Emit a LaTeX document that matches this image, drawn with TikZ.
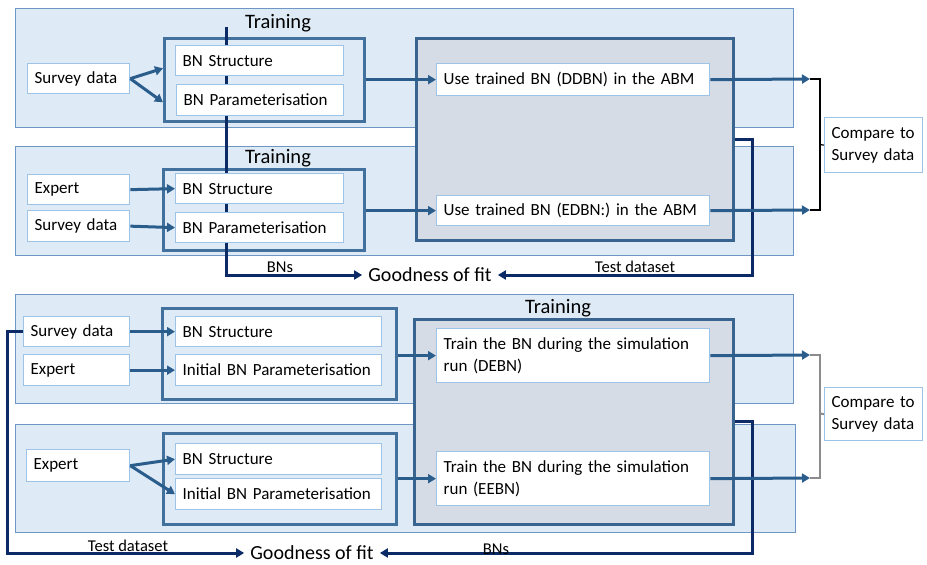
\documentclass[tikz,border=0pt]{standalone}
\usepackage{fontspec}
\setmainfont{Carlito}
\usetikzlibrary{arrows.meta,calc}
\definecolor{panelfill}{HTML}{DEEAF6}
\definecolor{panelbord}{HTML}{6E97C6}
\definecolor{groupbord}{HTML}{41719C}
\definecolor{wbord}{HTML}{9DC3E6}
\definecolor{grayfill}{HTML}{D6DCE5}
\definecolor{graybord}{HTML}{3A6490}
\definecolor{arrcol}{HTML}{2A5D8C}
\definecolor{navy}{HTML}{0C2A66}
\definecolor{bracegray}{HTML}{8C8C8C}
\newcommand\mkbox[7]{%
  \pgfmathsetmacro\mkw{#5-#3}\pgfmathsetmacro\mkh{#6-#4}\pgfmathsetmacro\mktw{#5-#3-14}%
  \node[#1, anchor=north west, minimum width=\mkw pt, minimum height=\mkh pt, text width=\mktw pt] (#2) at (#3,#4) {#7};}
\tikzset{
  panel/.style={draw=panelbord, fill=panelfill, line width=1pt, inner sep=0pt},
  grp/.style={draw=groupbord, line width=2.6pt, inner sep=0pt},
  abm/.style={draw=graybord, fill=grayfill, line width=2.8pt, inner sep=0pt},
  wb/.style={draw=wbord, fill=white, line width=1.3pt, inner xsep=7pt, inner ysep=0pt, align=left, font=\fontsize{17}{22}\selectfont},
  lbl/.style={inner sep=0pt, font=\fontsize{16.5}{18}\selectfont},
  ttl/.style={inner sep=0pt, font=\fontsize{20.5}{22}\selectfont},
  gof/.style={inner xsep=6pt, inner ysep=0pt, font=\fontsize{20}{22}\selectfont},
  arr/.style={draw=arrcol, line width=3pt, -{Triangle[length=8pt,width=9pt]}},
  fb/.style={draw=navy, line width=3pt},
  fbarr/.style={fb, -{Triangle[length=8pt,width=9pt]}},
  brc/.style={line width=1.2pt},
}
\begin{document}
\begin{tikzpicture}[x=1pt,y=-1pt]
\useasboundingbox (0,0) rectangle (927,565);
% panels
\mkbox{panel}{p1}{15}{8}{793}{127}{}
\mkbox{panel}{p2}{15}{146}{793}{255}{}
\mkbox{panel}{p3}{15}{294}{793}{403}{}
\mkbox{panel}{p4}{15}{424}{795}{532}{}
% groups
\mkbox{grp}{g1}{163}{37}{363}{120}{}
\mkbox{grp}{g2}{162}{168}{363}{249}{}
\mkbox{grp}{g3}{161}{307}{395}{398}{}
\mkbox{grp}{g4}{162}{432}{395}{523}{}
% ABM boxes
\mkbox{abm}{a1}{415}{37}{732}{239}{}
\mkbox{abm}{a2}{413}{318}{732}{523}{}
% titles
\node[ttl] (tr1) at (278,23) {Training};
\node[ttl] (tr2) at (278,158) {Training};
\node[ttl] (tr3) at (558,308) {Training};
% goodness of fit
\node[gof] (gf1) at (430,275) {Goodness of fit};
\node[gof] (gf2) at (312,553) {Goodness of fit};
% feedback lines (behind white boxes)
\coordinate (v0) at (226,27);
\draw[fbarr] (v0) |- (gf1.west);
\draw[fbarr] (a1.east) -- ++(18,0) |- (gf1.east);
\draw[fbarr] (a2.east) -- ++(18,0) |- (gf2.east);
% white boxes
\mkbox{wb}{sd1}{27}{63}{129}{93}{Survey data}
\mkbox{wb}{bs1}{175}{45}{343}{75}{BN Structure}
\mkbox{wb}{bp1}{176}{84}{343}{115}{BN Parameterisation}
\mkbox{wb}{ex2}{27}{174}{129}{204}{Expert}
\mkbox{wb}{sd2}{27}{210}{129}{241}{Survey data}
\mkbox{wb}{bs2}{175}{173}{343}{203}{BN Structure}
\mkbox{wb}{bp2}{175}{212}{343}{242}{BN Parameterisation}
\mkbox{wb}{u1}{436}{63}{709}{95}{Use trained BN (DDBN) in the ABM}
\mkbox{wb}{u2}{436}{195}{709}{225}{Use trained BN (EDBN:) in the ABM}
\mkbox{wb}{c1}{824}{117}{922}{172}{Compare to\\Survey data}
\mkbox{wb}{sd3}{23}{316}{129}{346}{Survey data}
\mkbox{wb}{ex3}{23}{354}{129}{385}{Expert}
\mkbox{wb}{bs3}{175}{316}{381}{346}{BN Structure}
\mkbox{wb}{ip3}{175}{354}{381}{385}{Initial BN Parameterisation}
\mkbox{wb}{ex4}{26}{449}{129}{481}{Expert}
\mkbox{wb}{bs4}{175}{443}{381}{474}{BN Structure}
\mkbox{wb}{ip4}{175}{478}{381}{509}{Initial BN Parameterisation}
\mkbox{wb}{t1}{436}{328}{709}{382}{Train the BN during the simulation\\run (DEBN)}
\mkbox{wb}{t2}{436}{451}{709}{505}{Train the BN during the simulation\\run (EEBN)}
\mkbox{wb}{c2}{824}{387}{922}{440}{Compare to\\Survey data}
% left feedback line
\draw[fbarr] (sd3.west) -- ++(-16,0) |- (gf2.west);
% arrows
\draw[arr] (sd1.east) -- ($(g1.west)+(0,-11.5)$);
\draw[arr] (sd1.east) -- ($(g1.west)+(0,22.5)$);
\draw[arr] (ex2.east) -- (bs2.west);
\draw[arr] (sd2.east) -- (bp2.west);
\draw[arr] (g1.east |- u1.west) -- (u1.west);
\draw[arr] (g2.east |- u2.west) -- (u2.west);
\coordinate (o1) at (810,79);
\coordinate (o2) at (810,210);
\draw[arr] (u1.east) -- (o1);
\draw[arr] (u2.east) -- (o2);
\draw[arr] (sd3.east) -- (bs3.west);
\draw[arr] (ex3.east) -- (ip3.west);
\draw[arr] (ex4.east) -- (bs4.west);
\draw[arr] (ex4.east) -- (ip4.west);
\draw[arr] (g3.east |- t1.west) -- (t1.west);
\draw[arr] (g4.east |- t2.west) -- (t2.west);
\coordinate (o3) at (810,355);
\coordinate (o4) at (810,478);
\draw[arr] (t1.east) -- (o3);
\draw[arr] (t2.east) -- (o4);
% braces
\draw[brc, black] (o1) -- ++(10,0) -- (820,210) -- (o2);
\draw[brc, black] (820,144.5) -- (c1.west);
\draw[brc, bracegray, line width=2pt] (o3) -- ++(10,0) -- (820,478) -- (o4);
\draw[brc, bracegray, line width=2pt] (820,413.5) -- (c2.west);
% labels
\node[lbl] (l1) at (280,267) {BNs};
\node[lbl] (l2) at (635,267) {Test dataset};
\node[lbl] (l3) at (128,546) {Test dataset};
\node[lbl] (l4) at (496,549) {BNs};
\end{tikzpicture}
\end{document}
